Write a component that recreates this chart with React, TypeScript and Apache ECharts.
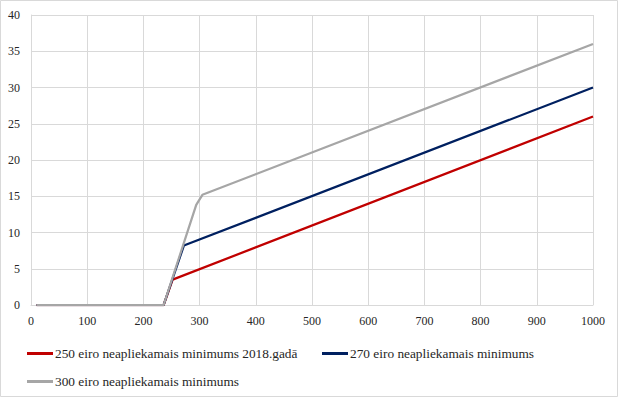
import React, { useEffect, useRef } from "react";
import * as echarts from "echarts";

const seriesNames = [
  "250 eiro neapliekamais minimums 2018.gadā",
  "270 eiro neapliekamais minimums",
  "300 eiro neapliekamais minimums",
];
const redX = [10, 236, 252, 1000];
const redY = [0, 0, 3.5, 26];
const blueX = [10, 236, 272, 1000];
const blueY = [0, 0, 8.2, 30];
const grayX = [10, 236, 294, 305, 1000];
const grayY = [0, 0, 13.8, 15.2, 36];
const colors = ["#C00000", "#002060", "#A6A6A6"];

const pairs = (xs: number[], ys: number[]) => xs.map((x, i) => [x, ys[i]]);

export default function App() {
  const ref = useRef<HTMLDivElement>(null);
  useEffect(() => {
    document.body.style.margin = "0";
    const chart = echarts.init(ref.current!, null, { renderer: "svg" });
    const family = "Liberation Serif";
    const axisFont = { fontFamily: family, fontSize: 12, color: "#262626" };
    const legendBase = {
      icon: "rect",
      itemWidth: 26,
      itemHeight: 3,
      itemGap: 0,
      textStyle: {
        fontFamily: family,
        fontSize: 13.33,
        color: "#262626",
        padding: [0, 0, 0, -3],
      },
      selectedMode: false,
      padding: 0,
    };
    chart.setOption({
      animation: false,
      backgroundColor: "#fff",
      color: colors,
      graphic: [
        {
          type: "rect",
          shape: { x: 0.5, y: 0.5, width: 617, height: 396 },
          style: { fill: "none", stroke: "#D9D9D9", lineWidth: 1 },
          silent: true,
        },
      ],
      grid: { left: 31, right: 25, top: 15, bottom: 92, containLabel: false },
      xAxis: {
        type: "value",
        min: 0,
        max: 1000,
        interval: 100,
        axisLine: { show: true, lineStyle: { color: "#D9D9D9", width: 1 } },
        axisTick: { show: false },
        axisLabel: { ...axisFont, margin: 10, formatter: (v: number) => String(v) },
        splitLine: { show: true, lineStyle: { color: "#D9D9D9", width: 1 } },
      },
      yAxis: {
        type: "value",
        min: 0,
        max: 40,
        interval: 5,
        axisLine: { show: true, lineStyle: { color: "#D9D9D9", width: 1 } },
        axisTick: { show: false },
        axisLabel: { ...axisFont, margin: 11, formatter: (v: number) => String(v) },
        splitLine: { show: true, lineStyle: { color: "#D9D9D9", width: 1 } },
      },
      legend: [
        { ...legendBase, data: [seriesNames[0]], left: 27, top: 347 },
        { ...legendBase, data: [seriesNames[1]], left: 322, top: 347 },
        { ...legendBase, data: [seriesNames[2]], left: 27, top: 375 },
      ],
      series: [
        { name: seriesNames[0], data: pairs(redX, redY) },
        { name: seriesNames[1], data: pairs(blueX, blueY) },
        { name: seriesNames[2], data: pairs(grayX, grayY) },
      ].map((s, i) => ({
        ...s,
        type: "line",
        showSymbol: false,
        symbol: "none",
        lineStyle: { color: colors[i], width: 2.25 },
        itemStyle: { color: colors[i] },
      })),
    });
    return () => chart.dispose();
  }, []);
  return <div ref={ref} style={{ width: 618, height: 397 }} />;
}
